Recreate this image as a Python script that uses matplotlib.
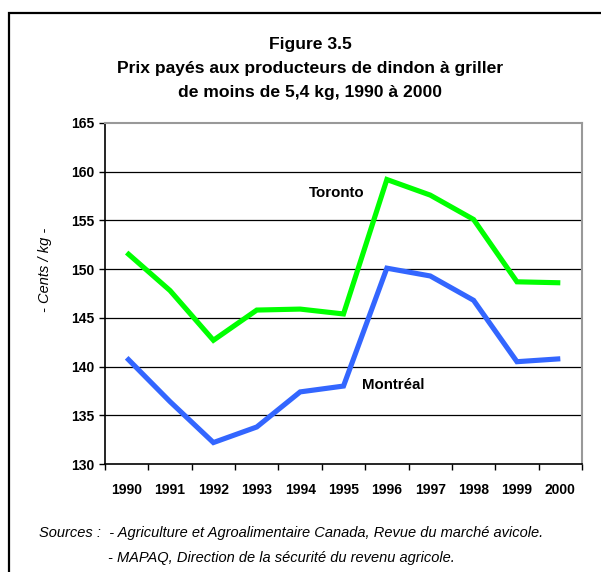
import matplotlib
matplotlib.use("Agg")
import matplotlib.pyplot as plt
from matplotlib.patches import Rectangle
import numpy as np

plt.rcParams['font.family'] = ['Liberation Sans', 'DejaVu Sans']

years = ['1990', '1991', '1992', '1993', '1994', '1995', '1996', '1997', '1998', '1999', '2000']
toronto = [151.7, 147.8, 142.7, 145.8, 145.9, 145.4, 159.2, 157.6, 155.1, 148.7, 148.6]
montreal = [140.9, 136.4, 132.2, 133.8, 137.4, 138.0, 150.1, 149.3, 146.8, 140.5, 140.8]
yticks = [130, 135, 140, 145, 150, 155, 160, 165]

W, H = 601, 572
fig = plt.figure(figsize=(W / 100, H / 100), dpi=100)
fig.patch.set_facecolor('white')

# outer frame (extends beyond right/bottom edges)
fig.patches.append(Rectangle((9 / W, -0.1), 1.2, (H - 13) / H + 0.1, transform=fig.transFigure,
                             fill=False, edgecolor='black', linewidth=1.6, zorder=0))

ax = fig.add_axes([105 / W, (H - 464) / H, (582 - 105) / W, (464 - 123) / H])
x = np.arange(len(years))
ax.plot(x, toronto, color='#00FF00', lw=3.7, solid_joinstyle='miter', solid_capstyle='butt', zorder=3)
ax.plot(x, montreal, color='#3366FF', lw=3.7, solid_joinstyle='miter', solid_capstyle='butt', zorder=3)

ax.set_xlim(-0.5, len(years) - 0.5)
ax.set_ylim(130, 165)
ax.set_yticks(yticks)
ax.set_yticklabels([str(v) for v in yticks], fontsize=10, fontweight='bold')
ax.set_xticks(x)
ax.set_xticklabels(years, fontsize=10, fontweight='bold')
ax.set_xticks(np.arange(-0.5, len(years)), minor=True)
ax.tick_params(axis='x', which='major', length=0, pad=14)
ax.tick_params(axis='x', which='minor', length=4, width=1, direction='out')
ax.tick_params(axis='y', which='major', length=4, width=1, direction='out', pad=4)

for v in yticks[1:-1]:
    ax.axhline(v, color='black', lw=0.9, zorder=1)

for s in ['left', 'bottom']:
    ax.spines[s].set_color('black')
    ax.spines[s].set_linewidth(1.2)
for s in ['top', 'right']:
    ax.spines[s].set_color('#999999')
    ax.spines[s].set_linewidth(1.5)

ax.text(4.85, 157.8, 'Toronto', fontsize=10.8, fontweight='bold', ha='center', va='center')
ax.text(6.15, 138.1, 'Montréal', fontsize=10.8, fontweight='bold', ha='center', va='center')

fig.text(45 / W, 1 - 270 / H, '- Cents / kg -', fontsize=10.5, fontstyle='italic',
         rotation=90, ha='center', va='center')

tx = 310 / W
fig.text(tx, 1 - 45 / H, 'Figure 3.5', fontsize=12.6, fontweight='bold', ha='center', va='center')
fig.text(tx, 1 - 69 / H, 'Prix payés aux producteurs de dindon à griller', fontsize=12.6,
         fontweight='bold', ha='center', va='center')
fig.text(tx, 1 - 93 / H, 'de moins de 5,4 kg, 1990 à 2000', fontsize=12.6,
         fontweight='bold', ha='center', va='center')

fig.text(39 / W, 1 - 533 / H, 'Sources :  - Agriculture et Agroalimentaire Canada, Revue du marché avicole.',
         fontsize=10.5, fontstyle='italic', ha='left', va='center')
fig.text(108 / W, 1 - 558 / H, '- MAPAQ, Direction de la sécurité du revenu agricole.',
         fontsize=10.5, fontstyle='italic', ha='left', va='center')

fig.savefig('out.png', dpi=100)
